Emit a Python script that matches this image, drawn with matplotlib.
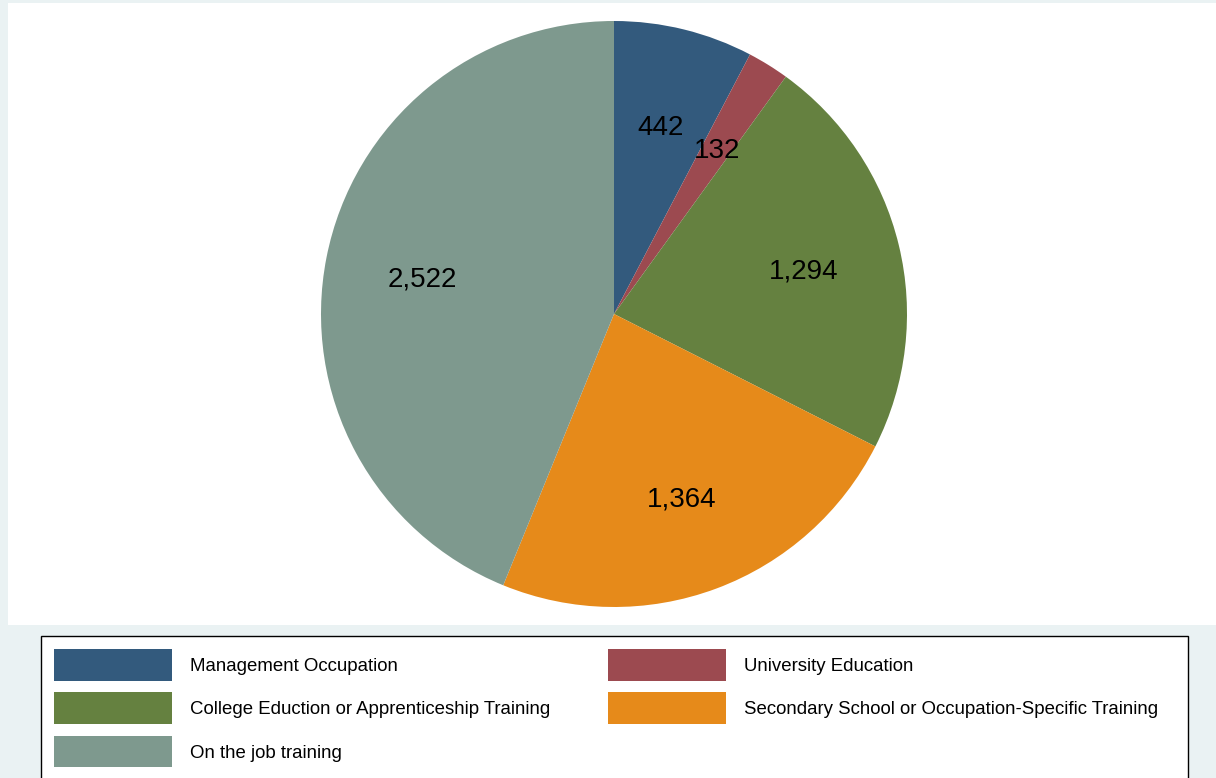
import matplotlib
matplotlib.use("Agg")
import matplotlib.pyplot as plt
from matplotlib.patches import Rectangle

plt.rcParams['font.family'] = ['Liberation Sans', 'DejaVu Sans']

# Data
categories = [
    "Management Occupation",
    "University Education",
    "College Eduction or Apprenticeship Training",
    "Secondary School or Occupation-Specific Training",
    "On the job training",
]
counts = [442, 132, 1294, 1364, 2522]
colors = ["#335A7D", "#9C4A50", "#658140", "#E68A1A", "#7E998E"]

W, H = 1216, 778
DPI = 100
fig = plt.figure(figsize=(W / DPI, H / DPI), dpi=DPI, facecolor="#EAF2F3")

# Full-figure overlay axes in pixel units (y downwards) for the plot region and legend
lax = fig.add_axes([0, 0, 1, 1], facecolor="none", zorder=0)
lax.set_xlim(0, W)
lax.set_ylim(H, 0)
lax.axis("off")

# White plot region
lax.add_patch(Rectangle((8, 3), W - 8, 622, facecolor="white", edgecolor="none"))

# Pie
cx, cy, r = 614, 314, 293
ax = fig.add_axes([(cx - r) / W, 1 - (cy + r) / H, 2 * r / W, 2 * r / H], zorder=1)
wedges, texts = ax.pie(counts, colors=colors, startangle=90, counterclock=False,
                       radius=1, labels=[f"{v:,}" for v in counts],
                       labeldistance=0.665,
                       wedgeprops=dict(linewidth=0),
                       textprops=dict(fontsize=20, color="black"))
for t in texts:
    t.set_horizontalalignment("center")
    t.set_verticalalignment("center_baseline")
ax.set_xlim(-1, 1)
ax.set_ylim(-1, 1)
ax.set_aspect("equal")
ax.axis("off")

# Legend box
lax.add_patch(Rectangle((40.5, 635.5), 1147, 160, facecolor="white",
                        edgecolor="black", linewidth=1.0))
col_x = [54, 608]
row_y = [649, 692.3, 735.5]
sw_w, sw_h = 118, 31.8
for i, (cat, col) in enumerate(zip(categories, colors)):
    row, c = divmod(i, 2)
    x0 = col_x[c]
    y0 = row_y[row]
    lax.add_patch(Rectangle((x0, y0), sw_w, sw_h, facecolor=col, edgecolor="none"))
    lax.text(x0 + 136, y0 + sw_h / 2 + 6.3, cat, fontsize=13.45, va="baseline",
             ha="left", color="black")

fig.savefig("out.png", dpi=DPI, facecolor=fig.get_facecolor())
